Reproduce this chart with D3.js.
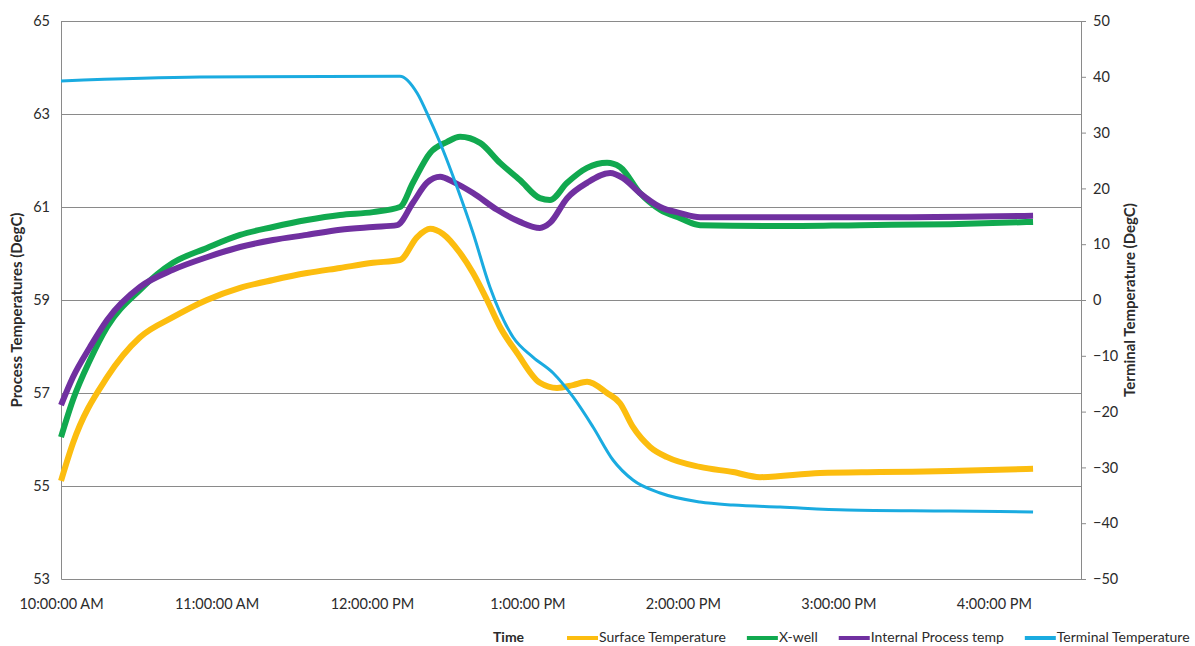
<!DOCTYPE html>
<html>
<head>
<meta charset="utf-8">
<script src="https://cdnjs.cloudflare.com/ajax/libs/d3/7.8.5/d3.min.js"></script>
<style>
  body { margin: 0; background: #fff; }
  text { font-family: Lato, "Open Sans", sans-serif; fill: #2b2b2b; }
</style>
</head>
<body>
<div id="chart"></div>
<script>
var width = 1195, height = 646;
var margin = {top: 21, right: 114, bottom: 67, left: 61};
var plotW = width - margin.left - margin.right;
var plotH = height - margin.top - margin.bottom;

// time is kept as minutes after 10:00:00 AM
var axisEndMinutes = 393.6;
var leftTicks = [53, 55, 57, 59, 61, 63, 65];
var rightTicks = [-50, -40, -30, -20, -10, 0, 10, 20, 30, 40, 50];

var surfaceMinutes = [0, 4.6, 17.8, 30.5, 43.2, 56.3, 69.1, 81.8, 94.9, 107.7, 120.4, 130.8, 137.4, 142.4, 147.4, 154.0, 159.0, 164.4, 169.4, 176.0, 184.8, 191.4, 197.6, 203.0, 210.7, 215.7, 220.7, 227.3, 233.9, 246.6, 259.3, 269.7, 292.9, 316.0, 343.1, 375.1];
var surfaceTemp = [55.11, 55.92, 57.34, 58.20, 58.63, 59.00, 59.26, 59.43, 59.58, 59.69, 59.80, 59.86, 60.35, 60.53, 60.42, 60.01, 59.58, 59.00, 58.42, 57.86, 57.22, 57.11, 57.17, 57.24, 57.00, 56.78, 56.27, 55.84, 55.62, 55.41, 55.30, 55.19, 55.28, 55.30, 55.32, 55.37];

var xwellMinutes = [0, 4.6, 11.2, 17.8, 30.5, 43.2, 56.3, 69.1, 81.8, 94.9, 107.7, 120.4, 130.8, 135.8, 142.4, 149.0, 154.0, 161.7, 169.4, 177.1, 184.8, 188.7, 195.3, 203.0, 210.7, 215.7, 223.4, 231.2, 238.9, 246.6, 277.5, 308.3, 343.1, 375.1];
var xwellTemp = [56.05, 56.85, 57.71, 58.42, 59.22, 59.80, 60.12, 60.40, 60.57, 60.72, 60.83, 60.89, 61.00, 61.52, 62.16, 62.40, 62.51, 62.38, 61.95, 61.58, 61.19, 61.15, 61.52, 61.84, 61.95, 61.86, 61.30, 60.94, 60.76, 60.61, 60.59, 60.61, 60.63, 60.68];

var internalMinutes = [0, 4.6, 11.2, 17.8, 30.5, 43.2, 56.3, 69.1, 81.8, 94.9, 107.7, 120.4, 129.7, 135.8, 141.2, 146.3, 151.3, 159.0, 168.3, 177.1, 184.8, 188.7, 195.3, 203.0, 211.9, 216.9, 223.4, 231.2, 238.9, 246.6, 285.2, 323.8, 375.1];
var internalTemp = [56.74, 57.34, 57.99, 58.57, 59.28, 59.65, 59.92, 60.14, 60.29, 60.40, 60.51, 60.57, 60.61, 61.09, 61.52, 61.65, 61.54, 61.30, 60.94, 60.68, 60.55, 60.66, 61.19, 61.52, 61.73, 61.62, 61.30, 61.00, 60.87, 60.78, 60.78, 60.78, 60.81];

var terminalMinutes = [0, 53.6, 130.8, 137.4, 142.4, 147.4, 152.8, 159.0, 165.5, 174.4, 182.1, 189.9, 197.6, 205.3, 213.0, 220.7, 231.2, 246.6, 259.3, 277.5, 303.3, 343.1, 375.1];
var terminalTemp = [39.25, 39.96, 40.10, 37.10, 32.26, 26.88, 20.25, 12.01, 2.33, -6.63, -10.22, -13.08, -17.38, -22.76, -28.67, -32.26, -34.59, -36.20, -36.74, -37.10, -37.63, -37.81, -37.99];

var seriesNames = ["Surface Temperature", "X-well", "Internal Process temp", "Terminal Temperature"];
var seriesColors = ["#fcbd0f", "#11a94f", "#7030a0", "#1aabe0"];

var start = new Date(2013, 0, 1, 10, 0, 0);
function toTime(m) { return new Date(start.getTime() + m * 60000); }

var svg = d3.select("#chart")
  .append("svg")
  .attr("width", width)
  .attr("height", height);

var g = svg.append("g")
  .attr("transform", "translate(" + margin.left + "," + margin.top + ")");

var x = d3.scaleTime()
  .domain([start, toTime(axisEndMinutes)])
  .range([0, plotW]);

var yLeft = d3.scaleLinear().domain([53, 65]).range([plotH, 0]);
var yRight = d3.scaleLinear().domain([-50, 50]).range([plotH, 0]);

// horizontal grid lines
g.selectAll(".grid")
  .data(leftTicks.slice(1))
  .enter().append("line")
  .attr("class", "grid")
  .attr("x1", 0)
  .attr("x2", plotW)
  .attr("y1", function(d){ return Math.round(yLeft(d)) + 0.5; })
  .attr("y2", function(d){ return Math.round(yLeft(d)) + 0.5; })
  .attr("stroke", "#8a8a8a")
  .attr("stroke-width", 1);

// axes
var leftAxis = g.append("g")
  .call(d3.axisLeft(yLeft).tickValues(leftTicks).tickSize(0).tickPadding(11));
var rightAxis = g.append("g")
  .attr("transform", "translate(" + plotW + ",0)")
  .call(d3.axisRight(yRight).tickValues(rightTicks).tickSizeInner(5).tickSizeOuter(0).tickPadding(7));
var bottomAxis = g.append("g")
  .attr("transform", "translate(0," + plotH + ")")
  .call(d3.axisBottom(x).ticks(d3.timeHour.every(1)).tickFormat(d3.timeFormat("%-I:%M:%S %p")).tickSize(0).tickPadding(20));

[leftAxis, rightAxis, bottomAxis].forEach(function(a){
  a.selectAll("path, line").attr("stroke", "#8a8a8a");
  a.selectAll("text").attr("font-size", 14.5).attr("fill", "#2b2b2b")
    .style("font-family", "Lato, 'Open Sans', sans-serif");
});

// lines
var lineLeft = d3.line()
  .x(function(d){ return x(toTime(d[0])); })
  .y(function(d){ return yLeft(d[1]); })
  .curve(d3.curveMonotoneX);
var lineRight = d3.line()
  .x(function(d){ return x(toTime(d[0])); })
  .y(function(d){ return yRight(d[1]); })
  .curve(d3.curveMonotoneX);

var surfaceData = d3.zip(surfaceMinutes, surfaceTemp);
var xwellData = d3.zip(xwellMinutes, xwellTemp);
var internalData = d3.zip(internalMinutes, internalTemp);
var terminalData = d3.zip(terminalMinutes, terminalTemp);

g.append("path").datum(surfaceData).attr("d", lineLeft)
  .attr("fill", "none").attr("stroke", seriesColors[0]).attr("stroke-width", 6);
g.append("path").datum(xwellData).attr("d", lineLeft)
  .attr("fill", "none").attr("stroke", seriesColors[1]).attr("stroke-width", 6);
g.append("path").datum(internalData).attr("d", lineLeft)
  .attr("fill", "none").attr("stroke", seriesColors[2]).attr("stroke-width", 6);
g.append("path").datum(terminalData).attr("d", lineRight)
  .attr("fill", "none").attr("stroke", seriesColors[3]).attr("stroke-width", 3);

// axis titles
svg.append("text")
  .text("Process Temperatures (DegC)")
  .attr("transform", "translate(22,310) rotate(-90)")
  .attr("text-anchor", "middle")
  .attr("font-weight", "bold")
  .attr("font-size", 15);

svg.append("text")
  .text("Terminal Temperature (DegC)")
  .attr("transform", "translate(1135,300) rotate(-90)")
  .attr("text-anchor", "middle")
  .attr("font-weight", "bold")
  .attr("font-size", 15);

svg.append("text")
  .text("Time")
  .attr("x", 493)
  .attr("y", 642)
  .attr("font-weight", "bold")
  .attr("font-size", 14);

// legend, laid out left to right
var legendX = 567;
seriesNames.forEach(function(name, i){
  svg.append("line")
    .attr("x1", legendX).attr("x2", legendX + 31)
    .attr("y1", 638).attr("y2", 638)
    .attr("stroke", seriesColors[i])
    .attr("stroke-width", 4);
  var t = svg.append("text")
    .text(name)
    .attr("x", legendX + 32)
    .attr("y", 642)
    .attr("font-size", 14);
  legendX += 32 + t.node().getComputedTextLength() + 21;
});
</script>
</body>
</html>
